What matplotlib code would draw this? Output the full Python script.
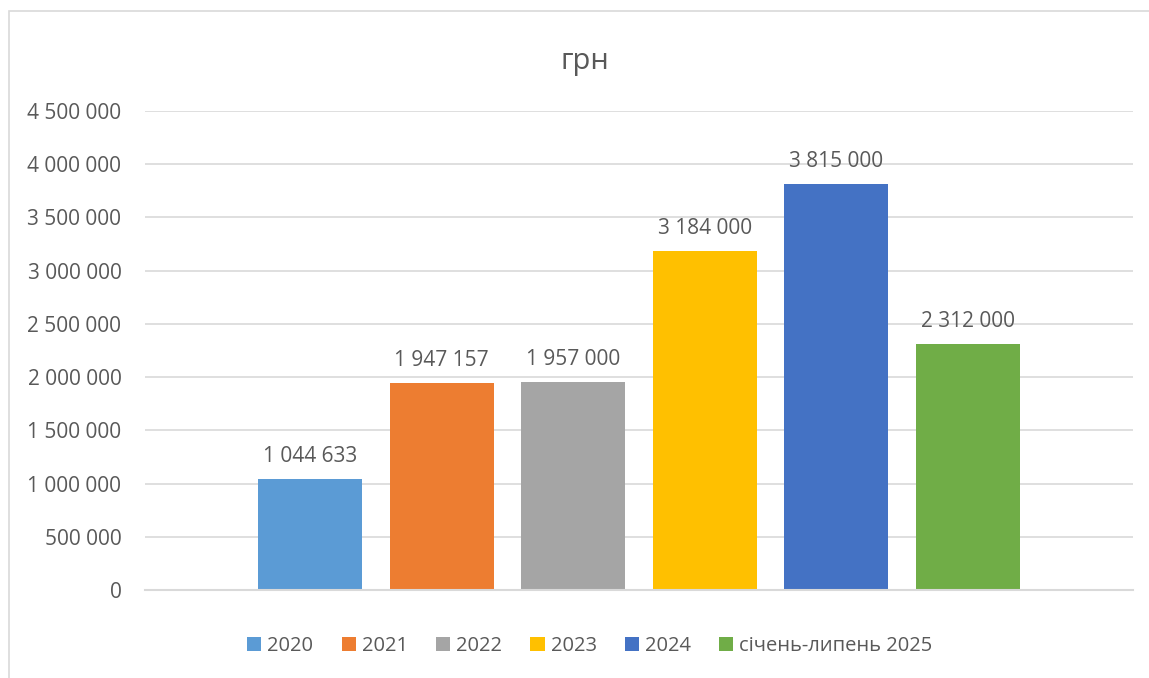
import matplotlib
matplotlib.use("Agg")
import matplotlib.pyplot as plt
from matplotlib.patches import Rectangle
from matplotlib.ticker import FuncFormatter

series_names = ["2020", "2021", "2022", "2023", "2024", "січень-липень 2025"]
values = [1044633, 1947157, 1957000, 3184000, 3815000, 2312000]
colors = ["#5B9BD5", "#ED7D31", "#A5A5A5", "#FFC000", "#4472C4", "#70AD47"]
title = "грн"
y_ticks = [0, 500000, 1000000, 1500000, 2000000, 2500000, 3000000, 3500000, 4000000, 4500000]

plt.rcParams['font.family'] = ['Open Sans', 'DejaVu Sans']
TXT = "#595959"

W, H = 1149, 678
fig = plt.figure(figsize=(W / 100, H / 100), dpi=100)

# chart frame (extends beyond right/bottom edge)
fig.patches.append(Rectangle((9 / W, -0.05), 1.2, (H - 11) / H + 0.05, transform=fig.transFigure,
                             fill=False, edgecolor="#D9D9D9", linewidth=1.2))

ax = fig.add_axes([145 / W, (H - 590) / H, 988 / W, 479 / H])
fmt = lambda v: f"{int(round(v)):,}".replace(",", " ")

step = 131.5 / 988
width = 104 / 988
n = len(values)
for i, (name, v, c) in enumerate(zip(series_names, values, colors)):
    x = (i - (n - 1) / 2) * step
    ax.bar(x, v, width=width, color=c, label=name, zorder=3)
    ax.text(x, v + 110000, fmt(v), ha="center", va="bottom", fontsize=15, color=TXT)

ax.set_xlim(-0.5, 0.5)
ax.set_ylim(0, 4500000)
ax.set_yticks(y_ticks)
ax.yaxis.set_major_formatter(FuncFormatter(lambda v, p: fmt(v)))
ax.tick_params(axis="y", length=0, pad=17, labelsize=15, labelcolor=TXT)
ax.set_xticks([])
ax.grid(axis="y", color="#D9D9D9", linewidth=1.2, zorder=0)
for s in ["left", "right", "top"]:
    ax.spines[s].set_visible(False)
ax.spines["bottom"].set_color("#D9D9D9")
ax.spines["bottom"].set_linewidth(1.5)
ax.spines["bottom"].set_zorder(4)

fig.text(585 / W, 1 - 61 / H, title, ha="center", va="center", fontsize=21, color=TXT)

handles, labels = ax.get_legend_handles_labels()
leg = fig.legend(handles, labels, loc="center", bbox_to_anchor=(590 / W, 1 - 646 / H), ncol=6,
                 frameon=False, fontsize=14.5, handlelength=0.7, handleheight=0.7,
                 handletextpad=0.3, columnspacing=1.4, labelcolor=TXT)

fig.savefig("out.png", dpi=100, facecolor="white")
